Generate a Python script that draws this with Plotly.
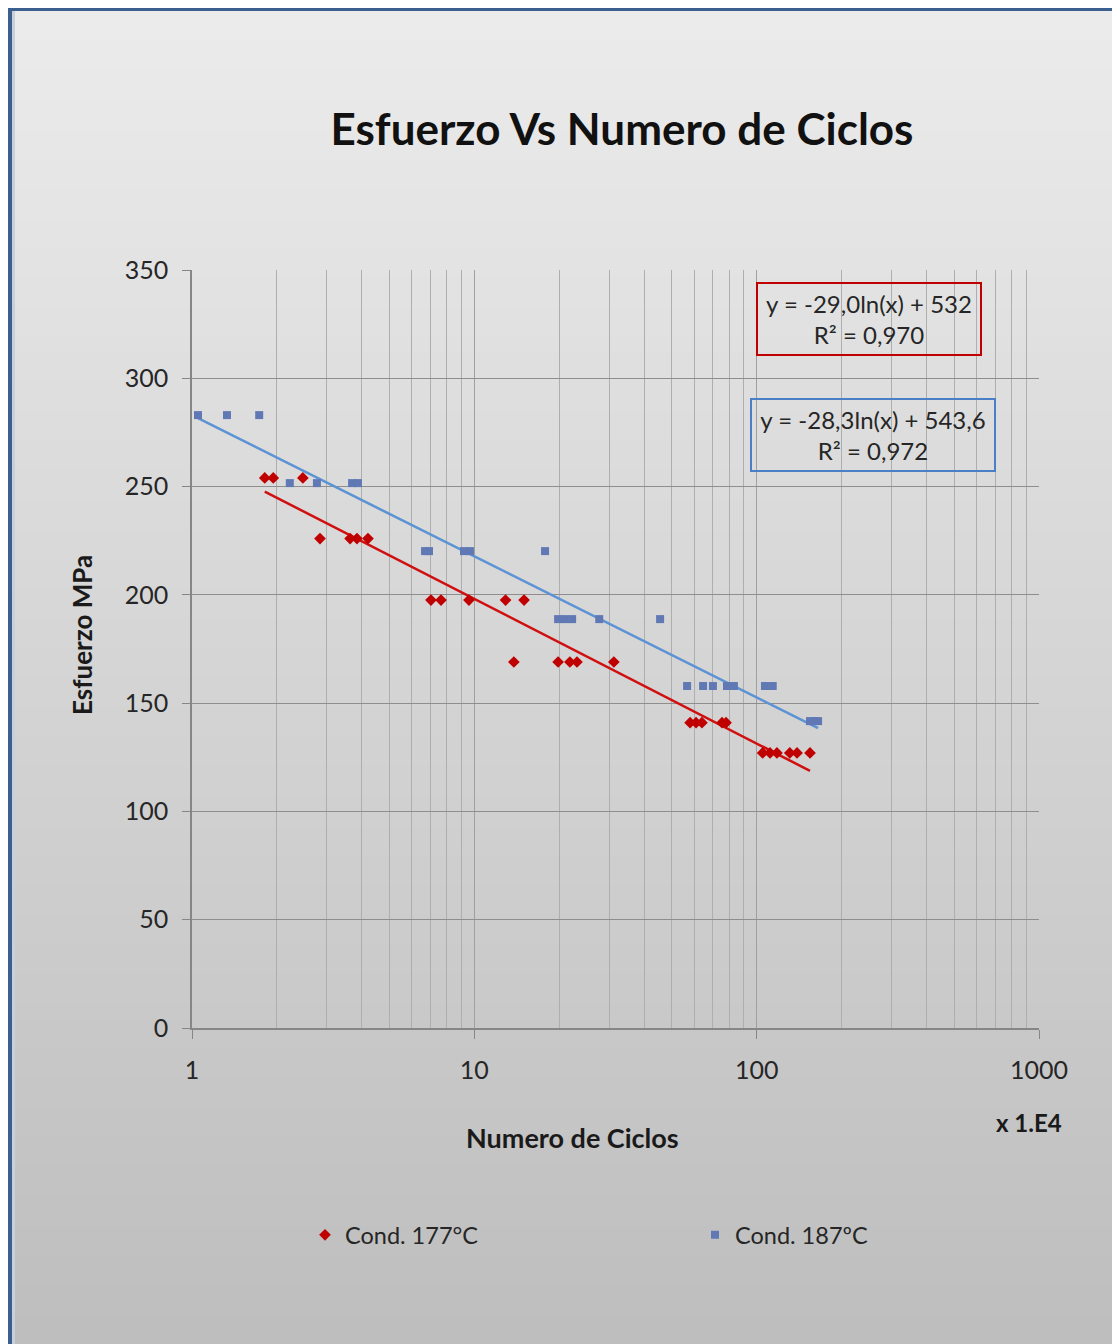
import numpy as np
import plotly.graph_objects as go

# ---------------- data (x in units of 1E4 cycles, y in MPa) ----------------
red_x = [1.81, 1.94, 2.47, 2.84, 3.63, 3.84, 4.2, 7.02, 7.62, 9.57, 12.9, 15.0,
         13.8, 19.8, 21.8, 23.1, 31.2, 58.1, 61.0, 64.0, 75.4, 77.9,
         105, 111.5, 118, 131, 139, 154.5]
red_y = [254, 254, 254, 226, 226, 226, 226, 197.6, 197.6, 197.6, 197.6, 197.6,
         169, 169, 169, 169, 169, 141, 141, 141, 141, 141,
         127, 127, 127, 127, 127, 127]

blue_x = [1.05, 1.33, 1.73, 2.22, 2.77, 3.69, 3.87, 6.69, 6.91, 9.19, 9.65, 17.8,
          19.8, 20.9, 22.2, 27.7, 45.5, 56.7, 64.6, 70.0, 78.5, 83.1, 107, 114,
          154.5, 160, 165]
blue_y = [283, 283, 283, 251.6, 251.6, 251.6, 251.6, 220.2, 220.2, 220.2, 220.2, 220.2,
          188.8, 188.8, 188.8, 188.8, 188.8, 157.9, 157.9, 157.9, 157.9, 157.9, 157.9, 157.9,
          141.7, 141.7, 141.7]

# trend-line coefficients as shown on the chart (x in cycles)
red_a, red_b = -29.0, 532.0
blue_a, blue_b = -28.3, 543.6
x_scale = 1e4

x_tickvals = [1, 10, 100, 1000]
x_minor = [m * d for d in (1, 10, 100) for m in range(2, 10)]
y_tickvals = [0, 50, 100, 150, 200, 250, 300, 350]

series_names = ["Cond. 177°C", "Cond. 187ºC"]
eq_red = "y = -29,0ln(x) + 532<br>R² = 0,970"
eq_blue = "y = -28,3ln(x) + 543,6<br>R² = 0,972"

# ---------------- geometry helpers (reference page pixels) ----------------
OFF = 8                      # page body margin
W, H = 1120 - OFF, 1344 - OFF
L, R, T, B = 192, 1039, 270, 1028
PW, PH = R - L, B - T


def px(xp):
    return (xp - L) / PW


def py(yp):
    return (B - yp) / PH


FONT = "Lato, 'Open Sans', sans-serif"
RED = "#c00000"
BLUE_M = "#6079b5"
RED_L = "#d01010"
BLUE_L = "#5b93d3"

fig = go.Figure()


def trend(xs, a, b):
    xe = np.array([min(xs), max(xs)])
    return xe, a * np.log(xe * x_scale) + b


rx, ry = trend(red_x, red_a, red_b)
bx, by = trend(blue_x, blue_a, blue_b)

fig.add_trace(go.Scatter(x=bx, y=by, mode="lines", line=dict(color=BLUE_L, width=2.5),
                         showlegend=False, hoverinfo="skip"))
fig.add_trace(go.Scatter(x=rx, y=ry, mode="lines", line=dict(color=RED_L, width=2.5),
                         showlegend=False, hoverinfo="skip"))
fig.add_trace(go.Scatter(x=red_x, y=red_y, mode="markers", name=series_names[0],
                         legend="legend",
                         marker=dict(symbol="diamond", size=9, color=RED)))
fig.add_trace(go.Scatter(x=blue_x, y=blue_y, mode="markers", name=series_names[1],
                         legend="legend2",
                         marker=dict(symbol="square", size=8, color=BLUE_M)))

# ---------------- background gradient + frame ----------------
shapes = []
n = 90
top_c = np.array([236, 236, 236])
bot_c = np.array([190, 190, 190])
for i in range(n):
    y0p = 11 + (1344 - 11) * i / n
    y1p = 11 + (1344 - 11) * (i + 1) / n + 1
    t = (i + 0.5) / n
    c = (top_c + (bot_c - top_c) * t).astype(int)
    shapes.append(dict(type="rect", xref="paper", yref="paper",
                       x0=px(12), x1=px(1130), y0=py(y1p), y1=py(y0p),
                       fillcolor=f"rgb({c[0]},{c[1]},{c[2]})", line=dict(width=0),
                       layer="below"))
shapes.append(dict(type="rect", xref="paper", yref="paper", x0=px(6), x1=px(1130),
                   y0=py(11), y1=py(5), fillcolor="#3b5f8f", line=dict(width=0), layer="below"))
shapes.append(dict(type="rect", xref="paper", yref="paper", x0=px(6), x1=px(12),
                   y0=py(1350), y1=py(5), fillcolor="#3b5f8f", line=dict(width=0), layer="below"))
shapes.append(dict(type="rect", xref="paper", yref="paper", x0=px(12), x1=px(15),
                   y0=py(1350), y1=py(11), fillcolor="#c8d0da", line=dict(width=0), layer="below"))


def ann(text, x, y, size, **kw):
    d = dict(text=text, xref="paper", yref="paper", x=px(x), y=py(y), showarrow=False,
             xanchor="center", yanchor="middle",
             font=dict(size=size, color="#1a1a1a", family=FONT))
    d.update(kw)
    return d


annotations = [
    ann("<b>Numero de Ciclos</b>", 572, 1137, 27),
    ann("<b>x 1.E4</b>", 1029, 1122, 24),
    ann("<b>Esfuerzo MPa</b>", 82, 635, 26, textangle=-90),
    ann(eq_red, 869, 319.5, 24, width=220, height=68, borderpad=1, borderwidth=2,
        bordercolor="#c00000", align="center"),
    ann(eq_blue, 873, 435, 24, width=240, height=68, borderpad=1, borderwidth=2,
        bordercolor="#4a7fc8", align="center"),
]
annotations[3]["font"]["color"] = "#262626"
annotations[4]["font"]["color"] = "#262626"

leg_common = dict(orientation="h", yanchor="middle", xanchor="left",
                  bgcolor="rgba(0,0,0,0)", font=dict(size=23.5, color="#262626", family=FONT),
                  itemwidth=30)

fig.update_layout(
    width=W, height=H,
    margin=dict(l=L - OFF, r=W - (R - OFF), t=T - OFF, b=H - (B - OFF), pad=0),
    paper_bgcolor="white",
    plot_bgcolor="rgba(0,0,0,0)",
    font=dict(family=FONT, color="#262626"),
    title=dict(text="<b>Esfuerzo Vs Numero de Ciclos</b>", x=(622 - OFF) / W, xanchor="center",
               y=1 - (130 - OFF) / H, yanchor="middle", xref="container", yref="container",
               font=dict(size=44, color="#111111", family=FONT)),
    shapes=shapes,
    annotations=annotations,
    showlegend=True,
    legend=dict(x=px(305), y=py(1235), **leg_common),
    legend2=dict(x=px(695), y=py(1235), **leg_common),
)

fig.update_xaxes(type="log", range=[0, 3], tickvals=x_tickvals, ticktext=[str(v) for v in x_tickvals],
                 ticks="outside", ticklen=9, tickcolor="#868686", tickwidth=1,
                 showline=True, linecolor="#868686", linewidth=1.5,
                 showgrid=True, gridcolor="#a0a0a0", gridwidth=1,
                 minor=dict(tickvals=x_minor, showgrid=True, gridcolor="#aeaeae", gridwidth=1, ticks=""),
                 tickfont=dict(size=25, color="#262626", family=FONT),
                 ticklabelstandoff=10, zeroline=False, mirror=False)
fig.update_yaxes(range=[0, 350], tickvals=y_tickvals,
                 ticks="outside", ticklen=8, tickcolor="#868686", tickwidth=1,
                 showline=True, linecolor="#868686", linewidth=1.5,
                 showgrid=True, gridcolor="#8e8e8e", gridwidth=1,
                 tickfont=dict(size=25, color="#262626", family=FONT),
                 ticklabelstandoff=9, zeroline=False)

fig.write_html("out.html")
